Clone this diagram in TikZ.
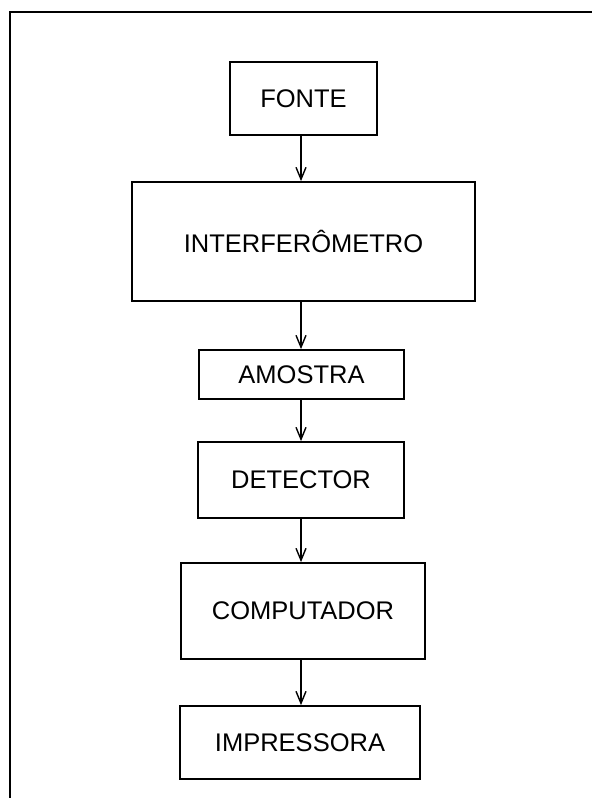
\documentclass[tikz,border=0pt]{standalone}
\usepackage{fontspec}
\setmainfont{Liberation Sans}
\usepackage{tikz}
\usetikzlibrary{arrows.meta}
\tikzstyle{bloco}=[rectangle, draw=black, line width=1.8pt, inner sep=0pt, font=\fontsize{25.5}{30}\selectfont]
\tikzstyle{seta}=[line width=1.6pt, -{Straight Barb[length=12pt, width=10pt, line width=1.4pt]}]

\begin{document}
\begin{tikzpicture}[x=1pt, y=-1pt]
    \useasboundingbox (0,0) rectangle (592,798);
    \draw[line width=1.8pt] (10,798) -- (10,12) -- (592,12);
    \node[bloco, minimum width=147, minimum height=73] (fonte) at (303.5,98.5) {FONTE};
    \node[bloco, minimum width=343, minimum height=119] (interf) at (303.5,241.5) {INTERFERÔMETRO};
    \node[bloco, minimum width=205, minimum height=49] (amostra) at (301.5,374.5) {AMOSTRA};
    \node[bloco, minimum width=206, minimum height=76] (detector) at (301,480) {DETECTOR};
    \node[bloco, minimum width=244, minimum height=96] (comput) at (303,611) {COMPUTADOR};
    \node[bloco, minimum width=240, minimum height=73] (impress) at (300,742.5) {IMPRESSORA};
    \foreach \from/\to in
      {fonte/interf, interf/amostra, amostra/detector, detector/comput, comput/impress}
    \draw[seta] (\from.south -| 301,0) -- (\to.north -| 301,0);
\end{tikzpicture}
\end{document}
